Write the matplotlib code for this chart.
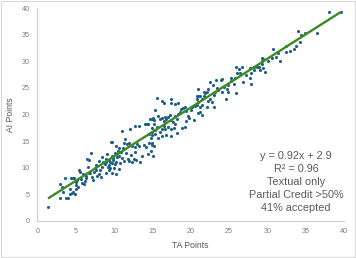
import matplotlib
matplotlib.use("Agg")
import matplotlib.pyplot as plt
from matplotlib.patches import Rectangle

plt.rcParams['font.family'] = ['Liberation Sans', 'DejaVu Sans']

# TA points (x) and AI points (y)
ta_points = [
    1.4, 2.9, 2.9, 3.4, 3.6, 3.8, 4.0, 4.3, 4.4, 4.6, 4.8, 4.5, 4.7, 4.9, 5.0, 5.1, 5.3, 5.1, 4.2, 3.2,
    5.4, 5.6, 5.9, 5.8, 6.2, 6.3, 6.4, 6.6, 6.8, 7.0, 6.5, 6.9, 7.1, 7.4, 7.5, 7.7, 8.2, 8.4, 8.6, 8.8,
    8.9, 9.0, 9.2, 9.4, 9.5, 9.7, 9.9, 10.0, 10.1, 10.3, 10.2, 9.6, 10.5, 7.8, 8.0, 8.3, 7.2, 6.1, 5.7, 8.5,
    9.1, 9.8, 7.6, 8.1, 6.7, 5.2, 9.3, 10.4,
    9.8, 11.0, 12.1, 12.7, 13.2, 14.1, 14.3, 14.5, 15.1, 15.2, 11.5, 11.7, 11.2, 10.9, 10.7, 11.3, 12.0, 12.3,
    12.8, 13.0, 13.3, 13.9, 14.2, 14.6, 14.8, 14.6, 14.9, 10.3, 10.7, 11.0, 11.3, 11.8, 12.0, 12.4, 12.6, 12.9,
    13.4, 9.9, 9.4, 9.0, 10.1, 10.8, 10.6, 9.5, 10.3, 9.7, 14.4, 12.2, 12.7, 11.6, 13.6, 15.0,
    15.6, 16.2, 16.5, 17.5, 17.5, 17.9, 18.4, 20.8, 21.2, 21.7, 21.0, 15.3, 14.7, 14.9, 15.2, 15.8, 16.0, 16.2,
    16.5, 16.6, 16.8, 17.1, 17.3, 17.5, 17.7, 17.9, 18.0, 18.2, 18.4, 18.6, 18.8, 19.0, 19.2, 19.4, 19.6, 20.0,
    20.2, 20.6, 20.9, 21.2, 14.9, 15.3, 15.6, 16.0, 16.2, 16.5, 16.6, 17.0, 17.4, 17.8, 18.2, 18.9, 15.0, 15.4,
    15.8, 16.2, 16.8, 17.4, 14.9, 15.2, 14.8, 15.1, 19.4, 19.8, 20.5, 19.2,
    29.5, 29.3, 28.9, 28.3, 28.2, 27.8, 27.9, 27.8, 27.9, 26.7, 25.9, 26.5, 26.0, 25.8, 25.6, 25.9, 25.2, 25.3,
    24.9, 24.7, 24.9, 24.1, 23.9, 23.3, 22.5, 24.3, 24.1, 23.6, 23.4, 23.2, 23.0, 22.3, 22.1, 21.9, 21.8, 21.5,
    21.0, 20.8, 22.5, 22.3, 22.8, 23.0, 22.1, 21.5, 21.2, 20.8, 21.5, 26.3, 27.2, 26.8, 24.6, 22.9, 20.9,
    39.6, 38.1, 36.5, 34.9, 34.0, 34.4, 33.7, 33.5, 33.0, 32.5, 32.5, 30.7, 31.4, 31.6, 30.6, 30.1, 29.3, 29.3,
    29.5, 29.1, 29.7, 28.6, 31.1, 34.2,
]
ai_points = [
    2.5, 7.0, 4.3, 5.4, 8.1, 4.3, 4.2, 5.1, 8.1, 8.1, 8.1, 5.3, 5.4, 5.1, 5.9, 6.8, 6.4, 7.2, 6.0, 6.3,
    9.5, 9.2, 8.8, 7.1, 7.4, 8.0, 8.5, 10.1, 11.4, 12.7, 11.7, 8.9, 8.2, 9.1, 10.0, 10.5, 9.5, 12.0, 11.0, 10.7,
    9.0, 11.6, 10.1, 10.5, 11.1, 12.1, 11.5, 9.9, 12.7, 11.1, 14.0, 14.8, 13.2, 8.5, 8.8, 8.3, 7.6, 6.9, 7.8, 10.2,
    12.5, 10.8, 9.6, 11.3, 9.0, 7.7, 9.6, 12.0,
    14.8, 16.9, 17.2, 17.9, 17.8, 18.2, 18.3, 18.3, 19.3, 18.2, 15.4, 14.5, 13.6, 13.0, 13.6, 14.6, 14.6, 14.1,
    13.8, 14.4, 14.0, 14.2, 13.8, 14.6, 15.5, 16.3, 16.7, 12.5, 12.2, 11.8, 11.2, 11.6, 11.3, 11.0, 11.6, 11.5,
    11.1, 11.8, 11.4, 11.1, 10.6, 10.9, 9.7, 9.9, 8.8, 9.0, 12.6, 12.4, 13.0, 12.8, 12.2, 14.2,
    23.2, 22.5, 22.1, 22.9, 22.1, 21.9, 22.1, 23.4, 23.4, 24.3, 24.8, 20.8, 19.1, 19.2, 19.0, 19.8, 19.1, 19.4,
    18.8, 19.5, 19.1, 19.5, 20.0, 19.0, 18.6, 18.3, 19.7, 19.2, 20.1, 20.5, 21.0, 21.3, 21.5, 20.7, 19.8, 20.8,
    21.5, 21.7, 22.3, 21.4, 17.4, 17.1, 17.7, 16.8, 17.2, 17.9, 17.3, 17.6, 17.3, 17.5, 16.6, 17.4, 16.2, 16.4,
    15.6, 15.9, 16.1, 16.0, 14.6, 14.0, 13.1, 12.2, 18.8, 19.3, 18.9, 17.6,
    30.5, 29.6, 29.0, 29.0, 28.4, 28.7, 27.9, 26.8, 25.7, 29.0, 29.0, 27.8, 27.8, 26.8, 25.7, 24.0, 26.9, 26.3,
    25.6, 24.9, 24.3, 26.7, 26.5, 26.5, 26.2, 25.2, 24.3, 24.6, 25.0, 24.3, 23.7, 24.9, 24.3, 24.0, 23.4, 23.0,
    23.4, 23.0, 23.0, 22.5, 22.4, 21.5, 21.5, 21.8, 20.5, 21.8, 19.9, 28.5, 27.4, 26.2, 23.0, 25.5, 20.2,
    39.4, 39.3, 35.4, 35.4, 35.7, 34.9, 32.9, 32.4, 31.9, 33.0, 31.7, 32.3, 31.5, 30.1, 30.6, 30.1, 30.6, 30.0,
    28.7, 28.4, 28.1, 29.0, 30.9, 33.6,
]

slope = 0.92
intercept = 2.9
r_squared = 0.96
note_lines = ["Textual only", "Partial Credit >50%", "41% accepted"]
x_ticks = [0, 5, 10, 15, 20, 25, 30, 35, 40]
y_ticks = [0, 5, 10, 15, 20, 25, 30, 35, 40]

fig = plt.figure(figsize=(3.56, 2.58), dpi=100)
fig.patch.set_facecolor('white')
fig.patches.append(Rectangle((0.0015, 0.002), 0.996, 0.995, transform=fig.transFigure,
                             fill=False, edgecolor='#d9d9d9', linewidth=0.8))

ax = fig.add_axes([0.1048, 0.1446, 0.8615, 0.823])
ax.scatter(ta_points, ai_points, s=5, color='#1d5f85', linewidths=0, zorder=2)

x0, x1 = min(ta_points), max(ta_points)
ax.plot([x0, x1], [slope * x0 + intercept, slope * x1 + intercept],
        color='#3c8a25', linewidth=1.7, zorder=3, solid_capstyle='butt')

ax.set_xlim(0, 40)
ax.set_ylim(0, 40)
ax.set_xticks(x_ticks)
ax.set_yticks(y_ticks)
ax.tick_params(length=0, labelsize=5.2, colors='#808080', pad=5.5)
for side in ('top', 'right'):
    ax.spines[side].set_visible(False)
for side in ('left', 'bottom'):
    ax.spines[side].set_color('#d0d0d0')
    ax.spines[side].set_linewidth(0.8)

ax.set_xlabel('TA Points', fontsize=6.2, color='#595959', labelpad=4)
ax.set_ylabel('AI Points', fontsize=6.2, color='#595959', labelpad=5)

text = "\n".join([f"y = {slope:.2f}x + {intercept:.1f}", f"R² = {r_squared:.2f}"] + note_lines)
ax.text(0.8435, 0.1836, text, transform=ax.transAxes, ha='center', va='center',
        multialignment='center', fontsize=7.8, color='#5a5a5a', linespacing=1.38)

fig.savefig('out.png', dpi=100, facecolor='white')
